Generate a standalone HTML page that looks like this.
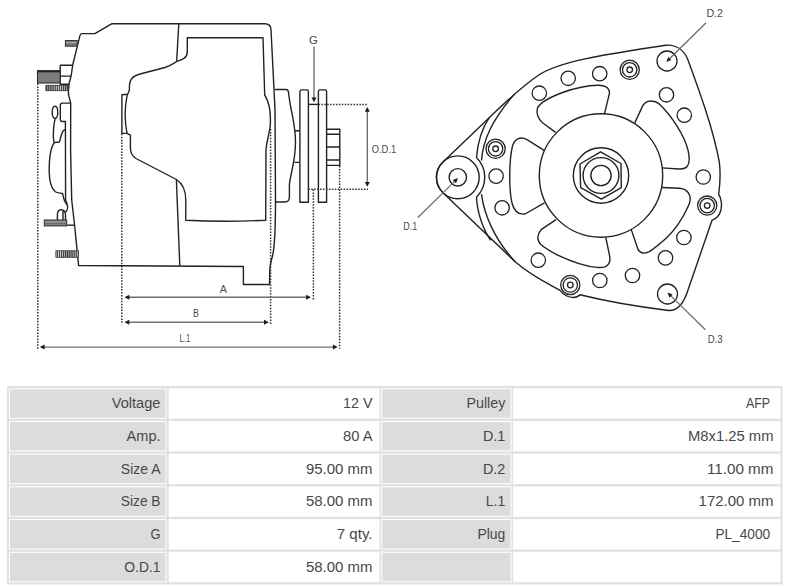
<!DOCTYPE html>
<html><head><meta charset="utf-8">
<style>
html,body{margin:0;padding:0;background:#fff;width:792px;height:587px;overflow:hidden;position:relative;font-family:"Liberation Sans",sans-serif;}
svg{position:absolute;left:0;top:0;}
</style></head>
<body>
<svg width="792" height="587" viewBox="0 0 792 587">
<defs>
<pattern id="vh" width="2.1" height="4" patternUnits="userSpaceOnUse"><rect width="2.1" height="4" fill="#d8d8d8"/><rect width="1.2" height="4" fill="#333"/></pattern>
<pattern id="hh" width="4" height="2.2" patternUnits="userSpaceOnUse"><rect width="4" height="2.2" fill="#8c8c8c"/><rect width="4" height="1" fill="#3c3c3c"/></pattern>
</defs>
<g fill="none" stroke="#222" stroke-width="1.4" stroke-linejoin="round">
<!-- ============ LEFT SIDE VIEW ============ -->
<!-- housing outline -->
<path d="M81.5,33.6 L94.8,33.6 L111.6,23.8 L264.7,23.8 Q270.7,23.8 271,29.5 L275,110 L275.5,200 C275.5,228 275,246 272.5,256 C270.5,263 269.8,266 269.7,272 L269.5,284.5 L243.4,284.5 L243.4,266.5 L78.6,265.5 L74.6,225.2 L71.7,200 L70.6,150 L70.7,103.2 L68.6,95 L68.4,91.8 L69.1,83.6 L71.2,75.5 L72.7,65 L79.8,36.2 Q80.5,33.6 81.5,33.6 Z"/>
<!-- divider lines -->
<path d="M178.8,23.8 L176.7,61"/>
<path d="M176.4,180 L179.8,265.8"/>
<!-- inner panel -->
<path d="M187.3,37.8 L263,37.8 L264.7,95 C270,103 271,112 270.3,125 C269.5,135 266.5,140 266,150 L265.7,220.2 Q225.7,222.2 185.7,220.2 L185.8,200.4 C185.8,190 182,183 176.4,179.5 L136,158.5 C132,156 130.4,152 130.4,148 L130.4,135.1 L127,133.4 L121.9,133.4 L121.9,94.8 L127.7,94.3 L129.4,90 L129.4,86.7 C129.5,79 133,76 140,74 L165,67.5 C170,66 173.5,63.5 176.7,61.5 C182.5,59.5 187.3,58 187.3,52 Z"/>
<path d="M127.2,94.8 Q123.2,114 127,133.4"/>
<!-- hub -->
<path d="M275,89.5 L286,89.5 Q288,89.5 288.5,92 C290,110 295.5,122 295.5,142 C295.5,162 290,175 289.4,185 L289.4,197 Q289.4,202 285,202 L275.5,202"/>
<path d="M294.6,130.7 L299.9,130.7 M294.4,162.4 L299.9,162.4"/>
<!-- pulley -->
<path d="M299.9,202.2 L299.9,91.5 Q299.9,89.9 301.5,89.9 L306.8,89.9 Q308.4,89.9 308.4,91.5 L308.4,202.2 Z"/>
<path d="M318.4,202.2 L318.4,91.5 Q318.4,89.9 320,89.9 L325,89.9 Q326.6,89.9 326.6,91.5 L326.6,202.2 Z"/>
<path d="M308.4,104.4 L318.4,104.4"/>
<!-- nut -->
<path d="M326.6,129.2 L339.8,129.2 L339.8,165.4 L326.6,165.4 M326.6,134.2 L339.8,134.2 M326.6,147 L339.8,147 M326.6,160 L339.8,160"/>
<!-- rear cover details -->
<path d="M60.2,65.2 L72.2,65.2 M60.2,65.2 L60.2,84.3 L69,84.3 M60.2,76.1 L70.8,76.1"/>
<path d="M70.7,103.1 L62.5,103.1 Q60.3,103.1 60.3,105.5 L60.3,119.8 Q60.5,121.5 62.2,121.5 L65.4,121.5 L65.6,200 L67.2,204.6"/>
<ellipse cx="55" cy="112.3" rx="2.75" ry="6.1"/>
<path d="M55.3,119 C54,121.5 53.5,128 53.3,136 C53.3,140 54,141.5 54.3,142.6 L59.4,142 C60,140 61,135.5 62,132.9 C62.8,131 64,130 65,129.8"/>
<path d="M54.3,142.6 C51,147 49.2,158 49.2,170.7 C49.2,182 51,188 55.3,191.8 C57,193 61,193 62.6,193.5 C63.5,197 63.8,201 66.5,204 C68.5,206.5 67.5,210 65.5,212.2"/>
<path d="M57.4,220 L57.4,215 C57.4,211 59,209.7 61,209.7 C63.5,209.7 65.5,211.5 65.5,215 L65.5,220 M63,211 L63,220"/>
<path d="M67.2,225.2 L74.6,225.2"/>
</g>
<!-- bolts -->
<rect x="65.4" y="40.6" width="11.8" height="5.6" fill="#858585" stroke="#2a2a2a" stroke-width="1"/><path d="M66,42.6 L76.5,42.6" stroke="#b5b5b5" stroke-width="0.7"/><path d="M66,44.3 L76.5,44.3" stroke="#555" stroke-width="0.6"/>
<rect x="37.5" y="70.7" width="22.7" height="12.3" fill="#7c7c7c" stroke="#2a2a2a" stroke-width="1.1"/>
<rect x="37.5" y="70.7" width="22.7" height="1.6" fill="#222"/>
<rect x="45.9" y="85.3" width="22.5" height="5.4" fill="url(#vh)" stroke="#333" stroke-width="0.8"/>
<rect x="44.3" y="220" width="22.4" height="5.9" fill="#858585" stroke="#2a2a2a" stroke-width="1"/><path d="M45,221.9 L66,221.9" stroke="#b5b5b5" stroke-width="0.7"/><path d="M45,223.6 L66,223.6" stroke="#555" stroke-width="0.6"/>
<rect x="55.9" y="250.8" width="22.7" height="6.5" fill="url(#vh)" stroke="#333" stroke-width="0.8"/>

<!-- dotted lines -->
<g fill="none" stroke="#2e2e2e" stroke-width="1.5" stroke-dasharray="1.5 1.43">
<path d="M37.8,83.5 L37.8,348.8"/>
<path d="M121.8,133.8 L121.8,324.5"/>
<path d="M270.6,129 L270.6,324.5"/>
<path d="M313.4,189.5 L313.4,299.8"/>
<path d="M339.6,166 L339.6,348.8"/>
<path d="M318.4,104.6 L368,104.6"/>
<path d="M308.4,189.2 L368,189.2"/>
</g>
<!-- dimension arrows -->
<g stroke="#707070" stroke-width="1.4" fill="none">
<path d="M128,297.3 L307,297.3"/>
<path d="M128,322.3 L265,322.3"/>
<path d="M43,347.1 L334.5,347.1"/>
<path d="M367.3,110 L367.3,183.5"/>
<path d="M314,46.6 L314,99"/>
</g>
<g fill="#1a1a1a" stroke="none">
<path d="M124.5,297.3 L129.3,294.8 L129.3,299.8 Z"/>
<path d="M310.9,297.3 L306.1,294.8 L306.1,299.8 Z"/>
<path d="M124.5,322.3 L129.3,319.8 L129.3,324.8 Z"/>
<path d="M268.8,322.3 L264,319.8 L264,324.8 Z"/>
<path d="M39.8,347.1 L44.6,344.6 L44.6,349.6 Z"/>
<path d="M337.7,347.1 L332.9,344.6 L332.9,349.6 Z"/>
<path d="M367.3,106.9 L364.8,111.7 L369.8,111.7 Z"/>
<path d="M367.3,186.8 L364.8,182 L369.8,182 Z"/>
<path d="M314,102.3 L311.5,97.5 L316.5,97.5 Z"/>
</g>
<g font-family="Liberation Sans" font-size="10.5" fill="#4a4a4a" lengthAdjust="spacingAndGlyphs">
<text x="219.8" y="292.7" textLength="7.2" lengthAdjust="spacingAndGlyphs">A</text>
<text x="193.1" y="317.1" textLength="5.9" lengthAdjust="spacingAndGlyphs">B</text>
<text x="179.6" y="341.6" textLength="10.6" lengthAdjust="spacingAndGlyphs">L.1</text>
<text x="309.1" y="43.5" textLength="8.7" lengthAdjust="spacingAndGlyphs">G</text>
<text x="371.7" y="152.9" textLength="24.4" lengthAdjust="spacingAndGlyphs">O.D.1</text>
<text x="706.4" y="17.4" textLength="16.6" lengthAdjust="spacingAndGlyphs">D.2</text>
<text x="707.8" y="343.2" textLength="14.8" lengthAdjust="spacingAndGlyphs">D.3</text>
<text x="403.2" y="229.5" textLength="14" lengthAdjust="spacingAndGlyphs">D.1</text>
</g>

<!-- ============ FRONT VIEW ============ -->
<g fill="none" stroke="#222" stroke-width="1.4" stroke-linejoin="round">
<!-- plate outline -->
<path d="M442.7,162.2 L489.2,117.7 C505,102.5 520,88 538,75.5 C560,60.5 612,53.5 666,45.2 C676,44.5 684,50 688,60 C699,90 713,128 719.3,162 C720.6,172 719.8,186 718.7,194.5 C721.5,198 722.3,206 720.5,211.5 C719,216 715.5,219 712.1,220.1 L688,290 C684,303 678,311 668.6,310.5 C640,307 605,301 580,294.8 C577,298 568,300 560,290.4 C545,282 530,275 515.2,261.8 L442.7,192.4 A21.4,21.4 0 0 1 442.7,162.2 Z"/>
<circle cx="457.8" cy="177.3" r="21.4"/>
<circle cx="457.8" cy="177.3" r="8.7"/>
<!-- rim band -->
<path d="M489.2,117.7 C481,130 477.5,145 476.5,157.5 A28,28 0 0 1 476.5,197.2 C477,210 482,228 490.7,240.3"/>
<path d="M514.7,93.9 C492,120 483,140 481.5,160.5 M481.5,194.2 C484,215 495,240 515.2,261.8"/>
<!-- hub -->
<circle cx="601" cy="175.5" r="61.7"/>
<circle cx="601" cy="175.5" r="27.7"/>
<circle cx="601" cy="175.5" r="17.9"/>
<circle cx="601" cy="175.5" r="10.1"/>
<path d="M600.6,151.9 L621,163.5 L621.3,187.6 L601.4,199.1 L580.6,187.6 L580,164 Z"/>
<!-- slots -->
<path d="M555.6,132.4 L542.5,122.7 C538,119 536,113 537.5,108 C540,103 550,97 564,92 C575,88 588,85.5 598.2,85.2 C604,85 609.5,87 609.5,93.2 L604.4,114.2"/>
<path d="M634.8,122.9 L642.3,106.6 C644,103 646,101 651,101 C654,101 657,102 659.3,103.9 C672,116 684,135 688,150 C689.5,156 690,162 687.5,166 C685.5,168.7 683,169.2 679,169 L662,167.9"/>
<path d="M661.8,187.5 L679.5,188.2 C684,188.5 687.5,190.5 689.5,195 C691,199 690,203 687.7,207.3 C682,220 675,230 665.9,238.6 C660,244 655,248 649.5,251.6 C646,253.5 641,254 638,249.5 L631.1,229.1"/>
<path d="M605.8,237.5 L609.7,256.3 C610.5,261 609,265 605,266.8 C603,267.5 600,267.5 597,267.4 C583,266.5 570,261 557.7,255.2 C550,251 545,248 541.1,244.7 C537,241 536.5,235 541.1,229.7 L556,219.7"/>
<path d="M544.5,150.7 L527,139.6 C520,136 514.5,139 512.5,146 C509,160 508.8,190 512,203 C514,211 518,215 525,214 L544.5,202.9"/>
</g>
<g fill="none" stroke="#222" stroke-width="1.3">
<circle cx="539.3" cy="93.2" r="7.2"/>
<circle cx="568.2" cy="78.3" r="7.2"/>
<circle cx="599.7" cy="73.7" r="7.2"/>
<circle cx="666.5" cy="94.8" r="7.2"/>
<circle cx="684.3" cy="115.2" r="7.2"/>
<circle cx="496.1" cy="176.1" r="7.2"/>
<circle cx="502.1" cy="207.8" r="7.2"/>
<circle cx="703.3" cy="177" r="7.2"/>
<circle cx="683.9" cy="237.5" r="7.2"/>
<circle cx="665.5" cy="257.9" r="7.2"/>
<circle cx="538.3" cy="260.2" r="7.2"/>
<circle cx="599.8" cy="280.5" r="7.2"/>
<circle cx="632.5" cy="275.5" r="7.2"/>
<circle cx="667" cy="61" r="10"/>
<circle cx="667.5" cy="294" r="10"/>
<g id="dr">
<circle cx="629.7" cy="69.8" r="9.6"/><circle cx="629.7" cy="69.8" r="7.2"/><circle cx="629.7" cy="69.8" r="2.8"/>
<circle cx="495.6" cy="148.8" r="9.6"/><circle cx="495.6" cy="148.8" r="7.2"/><circle cx="495.6" cy="148.8" r="2.8"/>
<circle cx="707.2" cy="205.6" r="9.6"/><circle cx="707.2" cy="205.6" r="7.2"/><circle cx="707.2" cy="205.6" r="2.8"/>
<circle cx="570.3" cy="285" r="9.6"/><circle cx="570.3" cy="285" r="7.2"/><circle cx="570.3" cy="285" r="2.8"/>
</g>
</g>
<!-- leaders -->
<g stroke="#6a6a6a" stroke-width="1.2" fill="none">
<path d="M706.1,22.7 L669.8,58.5"/>
<path d="M705.4,329.7 L671.1,296.1"/>
<path d="M417.9,217.5 L454.4,181.6"/>
</g>
<g fill="#1a1a1a">
<path d="M666.3,62 L671.4,60.1 L668.2,56.9 Z"/>
<path d="M667.5,292.6 L672.7,294.5 L669.5,297.7 Z"/>
<path d="M458,178.1 L456,183.2 L452.8,180 Z"/>
</g>
</svg>

<!-- ============ TABLE ============ -->
<svg id="tbl" width="792" height="587" viewBox="0 0 792 587">
<rect x="7" y="386" width="775.5" height="198.4" fill="#e1e1e1"/>
<rect x="9" y="388.3" width="157.5" height="30.4" fill="#fff"/>
<rect x="10" y="389.3" width="155.5" height="28.4" fill="#dcdcdc"/>
<text font-family="Liberation Sans" font-size="13.8" fill="#484848" x="160.5" y="408.2" text-anchor="end" textLength="48.8" lengthAdjust="spacingAndGlyphs">Voltage</text>
<rect x="168.7" y="388.3" width="210.8" height="30.4" fill="#fff"/>
<text font-family="Liberation Sans" font-size="13.8" fill="#484848" x="372.5" y="408.2" text-anchor="end" textLength="29.5" lengthAdjust="spacingAndGlyphs">12 V</text>
<rect x="381.3" y="388.3" width="130.2" height="30.4" fill="#fff"/>
<rect x="382.3" y="389.3" width="128.2" height="28.4" fill="#dcdcdc"/>
<text font-family="Liberation Sans" font-size="13.8" fill="#484848" x="505.3" y="408.2" text-anchor="end" textLength="38.8" lengthAdjust="spacingAndGlyphs">Pulley</text>
<rect x="513.2" y="388.3" width="267.3" height="30.4" fill="#fff"/>
<text font-family="Liberation Sans" font-size="13.8" fill="#484848" x="770.1" y="408.2" text-anchor="end" textLength="24.2" lengthAdjust="spacingAndGlyphs">AFP</text>
<rect x="9" y="421.0" width="157.5" height="30.4" fill="#fff"/>
<rect x="10" y="422.0" width="155.5" height="28.4" fill="#dcdcdc"/>
<text font-family="Liberation Sans" font-size="13.8" fill="#484848" x="160.5" y="440.9" text-anchor="end" textLength="33.9" lengthAdjust="spacingAndGlyphs">Amp.</text>
<rect x="168.7" y="421.0" width="210.8" height="30.4" fill="#fff"/>
<text font-family="Liberation Sans" font-size="13.8" fill="#484848" x="372.5" y="440.9" text-anchor="end" textLength="29.5" lengthAdjust="spacingAndGlyphs">80 A</text>
<rect x="381.3" y="421.0" width="130.2" height="30.4" fill="#fff"/>
<rect x="382.3" y="422.0" width="128.2" height="28.4" fill="#dcdcdc"/>
<text font-family="Liberation Sans" font-size="13.8" fill="#484848" x="505.3" y="440.9" text-anchor="end" textLength="22.4" lengthAdjust="spacingAndGlyphs">D.1</text>
<rect x="513.2" y="421.0" width="267.3" height="30.4" fill="#fff"/>
<text font-family="Liberation Sans" font-size="13.8" fill="#484848" x="773.5" y="440.9" text-anchor="end" textLength="85.5" lengthAdjust="spacingAndGlyphs">M8x1.25 mm</text>
<rect x="9" y="453.7" width="157.5" height="30.4" fill="#fff"/>
<rect x="10" y="454.7" width="155.5" height="28.4" fill="#dcdcdc"/>
<text font-family="Liberation Sans" font-size="13.8" fill="#484848" x="160.5" y="473.6" text-anchor="end" textLength="39.7" lengthAdjust="spacingAndGlyphs">Size A</text>
<rect x="168.7" y="453.7" width="210.8" height="30.4" fill="#fff"/>
<text font-family="Liberation Sans" font-size="13.8" fill="#484848" x="372.5" y="473.6" text-anchor="end" textLength="66.6" lengthAdjust="spacingAndGlyphs">95.00 mm</text>
<rect x="381.3" y="453.7" width="130.2" height="30.4" fill="#fff"/>
<rect x="382.3" y="454.7" width="128.2" height="28.4" fill="#dcdcdc"/>
<text font-family="Liberation Sans" font-size="13.8" fill="#484848" x="505.3" y="473.6" text-anchor="end" textLength="22.4" lengthAdjust="spacingAndGlyphs">D.2</text>
<rect x="513.2" y="453.7" width="267.3" height="30.4" fill="#fff"/>
<text font-family="Liberation Sans" font-size="13.8" fill="#484848" x="773.5" y="473.6" text-anchor="end" textLength="66.6" lengthAdjust="spacingAndGlyphs">11.00 mm</text>
<rect x="9" y="486.4" width="157.5" height="30.4" fill="#fff"/>
<rect x="10" y="487.4" width="155.5" height="28.4" fill="#dcdcdc"/>
<text font-family="Liberation Sans" font-size="13.8" fill="#484848" x="160.5" y="506.3" text-anchor="end" textLength="39.7" lengthAdjust="spacingAndGlyphs">Size B</text>
<rect x="168.7" y="486.4" width="210.8" height="30.4" fill="#fff"/>
<text font-family="Liberation Sans" font-size="13.8" fill="#484848" x="372.5" y="506.3" text-anchor="end" textLength="66.6" lengthAdjust="spacingAndGlyphs">58.00 mm</text>
<rect x="381.3" y="486.4" width="130.2" height="30.4" fill="#fff"/>
<rect x="382.3" y="487.4" width="128.2" height="28.4" fill="#dcdcdc"/>
<text font-family="Liberation Sans" font-size="13.8" fill="#484848" x="505.3" y="506.3" text-anchor="end" textLength="19.6" lengthAdjust="spacingAndGlyphs">L.1</text>
<rect x="513.2" y="486.4" width="267.3" height="30.4" fill="#fff"/>
<text font-family="Liberation Sans" font-size="13.8" fill="#484848" x="773.5" y="506.3" text-anchor="end" textLength="74.9" lengthAdjust="spacingAndGlyphs">172.00 mm</text>
<rect x="9" y="519.1" width="157.5" height="30.4" fill="#fff"/>
<rect x="10" y="520.1" width="155.5" height="28.4" fill="#dcdcdc"/>
<text font-family="Liberation Sans" font-size="13.8" fill="#484848" x="160.5" y="539.0" text-anchor="end" textLength="10.1" lengthAdjust="spacingAndGlyphs">G</text>
<rect x="168.7" y="519.1" width="210.8" height="30.4" fill="#fff"/>
<text font-family="Liberation Sans" font-size="13.8" fill="#484848" x="372.5" y="539.0" text-anchor="end" textLength="35.7" lengthAdjust="spacingAndGlyphs">7 qty.</text>
<rect x="381.3" y="519.1" width="130.2" height="30.4" fill="#fff"/>
<rect x="382.3" y="520.1" width="128.2" height="28.4" fill="#dcdcdc"/>
<text font-family="Liberation Sans" font-size="13.8" fill="#484848" x="505.3" y="539.0" text-anchor="end" textLength="27.9" lengthAdjust="spacingAndGlyphs">Plug</text>
<rect x="513.2" y="519.1" width="267.3" height="30.4" fill="#fff"/>
<text font-family="Liberation Sans" font-size="13.8" fill="#484848" x="770.1" y="539.0" text-anchor="end" textLength="54.7" lengthAdjust="spacingAndGlyphs">PL_4000</text>
<rect x="9" y="551.8" width="157.5" height="30.4" fill="#fff"/>
<rect x="10" y="552.8" width="155.5" height="28.4" fill="#dcdcdc"/>
<text font-family="Liberation Sans" font-size="13.8" fill="#484848" x="160.5" y="571.7" text-anchor="end" textLength="36.2" lengthAdjust="spacingAndGlyphs">O.D.1</text>
<rect x="168.7" y="551.8" width="210.8" height="30.4" fill="#fff"/>
<text font-family="Liberation Sans" font-size="13.8" fill="#484848" x="372.5" y="571.7" text-anchor="end" textLength="66.6" lengthAdjust="spacingAndGlyphs">58.00 mm</text>
<rect x="381.3" y="551.8" width="130.2" height="30.4" fill="#fff"/>
<rect x="382.3" y="552.8" width="128.2" height="28.4" fill="#dcdcdc"/>
<rect x="513.2" y="551.8" width="267.3" height="30.4" fill="#fff"/>
</svg>
</body></html>
